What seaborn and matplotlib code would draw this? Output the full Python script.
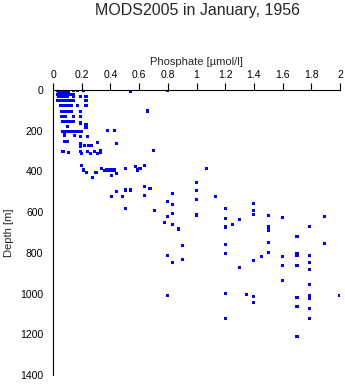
import matplotlib
matplotlib.use("Agg")
import matplotlib.pyplot as plt
import seaborn as sns
import pandas as pd

# Upper layer (0-300 m): phosphate [umol/l] and sample depth [m]
upper_phosphate = [
    0.03, 0.04, 0.05, 0.06, 0.07, 0.08, 0.09, 0.10, 0.11, 0.14, 0.17, 0.21, 0.80,
    0.04, 0.05, 0.06, 0.07, 0.08, 0.09, 0.10, 0.11, 0.54,
    0.03, 0.05, 0.06, 0.08, 0.09, 0.10, 0.12, 0.14,
    0.04, 0.06, 0.07, 0.09, 0.10, 0.14, 0.19, 0.23,
    0.03, 0.04, 0.06, 0.07, 0.08, 0.10, 0.12, 0.14, 0.23,
    0.05, 0.06, 0.08, 0.09, 0.11, 0.13, 0.17, 0.23,
    0.06, 0.07, 0.08, 0.10, 0.11, 0.13, 0.19, 0.66,
    0.06, 0.07, 0.09, 0.14, 0.19,
    0.07, 0.08, 0.10, 0.12, 0.14, 0.19, 0.23,
    0.10, 0.23,
    0.07, 0.08, 0.10, 0.12, 0.14, 0.16, 0.18, 0.20, 0.38, 0.43,
    0.08, 0.15, 0.19, 0.24,
    0.08, 0.09, 0.10, 0.19, 0.31, 0.44,
    0.19, 0.22, 0.25, 0.27,
    0.07, 0.11, 0.19, 0.20, 0.24, 0.26, 0.29, 0.31, 0.33, 0.33, 0.70,
]
upper_depth = [
    0, 0, 0, 0, 0, 0, 0, 0, 0, 0, 0, 0, 0,
    10, 10, 10, 10, 10, 10, 10, 10, 8,
    20, 20, 20, 20, 20, 20, 20, 20,
    30, 30, 30, 30, 30, 30, 30, 30,
    50, 50, 50, 50, 50, 50, 50, 50, 50,
    75, 75, 75, 75, 75, 75, 75, 75,
    105, 105, 105, 105, 105, 105, 105, 103,
    128, 128, 128, 128, 128,
    155, 155, 155, 155, 155, 162, 172,
    180, 183,
    205, 205, 205, 205, 205, 205, 205, 205, 201, 201,
    221, 225, 229, 229,
    254, 254, 254, 262, 257, 262,
    278, 274, 274, 274,
    300, 306, 300, 314, 303, 311, 300, 311, 295, 308, 298,
]

# Intermediate layer (350-600 m)
mid_phosphate = [
    0.20, 0.21, 0.235, 0.277, 0.30,
    0.34, 0.357, 0.37, 0.39, 0.41, 0.425, 0.44, 0.41,
    0.507, 0.576, 0.59, 0.606, 0.636,
    0.507, 0.44, 0.41, 0.486, 0.537, 0.636, 0.636, 0.507, 0.676,
]
mid_depth = [
    373, 393, 406, 429, 404,
    385, 396, 393, 393, 393, 393, 409, 421,
    385, 375, 393, 385, 373,
    491, 500, 524, 521, 491, 475, 519, 581, 483,
]

# Deep layer (450-1210 m)
deep_phosphate = [
    1.07, 1.00, 1.00, 0.83, 1.00, 1.13, 0.80, 0.83, 0.706, 0.80, 0.83, 1.00,
    0.776, 0.83, 0.873, 1.20, 1.20, 1.20, 1.25, 1.30, 1.40, 1.40, 1.40, 1.50,
    1.60, 1.50, 1.50, 1.50, 1.50, 1.45, 1.40, 1.30, 1.20, 1.20, 0.90, 0.90,
    0.80, 0.83, 0.80, 1.20, 1.20, 1.35, 1.40, 1.40, 1.60, 1.60, 1.60, 1.70,
    1.70, 1.70, 1.70, 1.79, 1.79, 1.79, 1.79, 1.79, 1.70, 1.70, 1.70, 1.79,
    1.79, 1.79, 1.79, 1.89, 1.89, 2.00,
]
deep_depth = [
    385, 454, 495, 509, 537, 522, 549, 563, 591, 622, 606, 614,
    650, 660, 683, 581, 630, 673, 660, 635, 558, 593, 611, 616,
    625, 673, 691, 748, 799, 817, 837, 874, 758, 802, 766, 832,
    812, 847, 1010, 1001, 1122, 1005, 1015, 1043, 817, 861, 935, 719,
    802, 812, 861, 670, 812, 847, 881, 955, 1018, 1062, 1210, 1010,
    1025, 1072, 1122, 621, 753, 1010,
]

x_ticks = [0, 0.2, 0.4, 0.6, 0.8, 1.0, 1.2, 1.4, 1.6, 1.8, 2.0]
x_tick_labels = ["0", "0.2", "0.4", "0.6", "0.8", "1", "1.2", "1.4", "1.6", "1.8", "2"]
y_ticks = [0, 200, 400, 600, 800, 1000, 1200, 1400]

df = pd.DataFrame({
    "phosphate": upper_phosphate + mid_phosphate + deep_phosphate,
    "depth": upper_depth + mid_depth + deep_depth,
})

sns.set_style("white")
plt.rcParams["font.family"] = ["Liberation Sans", "DejaVu Sans"]

fig = plt.figure(figsize=(3.45, 3.84), dpi=100)
ax = fig.add_axes([53 / 345, 1 - 375 / 384, 287 / 345, 285 / 384])

sns.scatterplot(data=df, x="phosphate", y="depth", ax=ax, marker="s",
                s=5, color="#0000ff", linewidth=0, edgecolor="none")

ax.set_xlim(0, 2)
ax.set_ylim(1400, 0)
ax.xaxis.tick_top()
ax.xaxis.set_label_position("top")
ax.set_xticks(x_ticks)
ax.set_xticklabels(x_tick_labels)
ax.set_yticks(y_ticks)
ax.tick_params(axis="both", direction="out", length=5, width=0.8,
               colors="black", labelsize=7.5, pad=2)
for side in ("right", "bottom"):
    ax.spines[side].set_visible(False)
for side in ("top", "left"):
    ax.spines[side].set_color("black")
    ax.spines[side].set_linewidth(0.8)

ax.set_xlabel("Phosphate [\u00b5mol/l]", fontsize=8, labelpad=4)
ax.set_ylabel("Depth [m]", fontsize=8, labelpad=4)
fig.text(0.5 + 25 / 345, 1 - 10 / 384, "MODS2005 in January, 1956",
         ha="center", va="center", fontsize=11.5)

fig.savefig("out.png", dpi=100)
